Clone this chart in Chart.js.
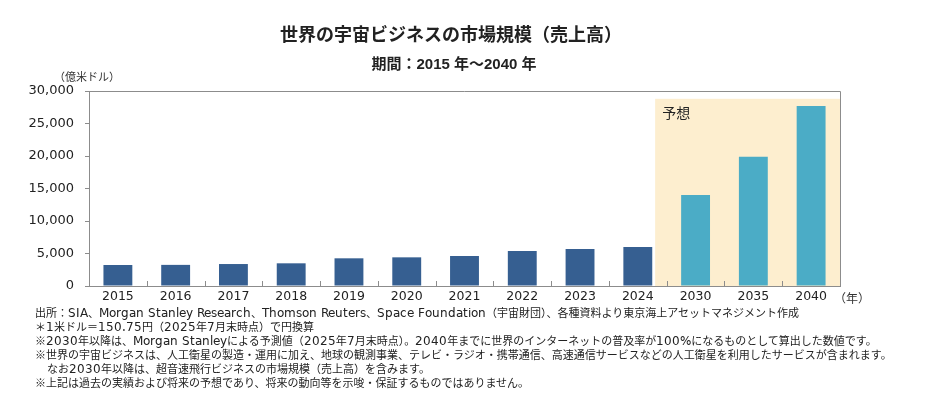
<!DOCTYPE html>
<html>
<head>
<meta charset="utf-8">
<script src="https://cdn.jsdelivr.net/npm/chart.js@4"></script>
<style>
  @font-face{font-family:"NoteLatin";src:local("DejaVu Sans");unicode-range:U+0020-007E;size-adjust:112%}
  body{margin:0;background:#fff;width:940px;height:407px;overflow:hidden;position:relative;
       font-family:"Noto Sans CJK JP","Noto Sans",sans-serif;color:#222}
  #wrap{position:absolute;left:0;top:0;width:940px;height:407px}
  .t{position:absolute;white-space:nowrap}
  #title{left:0;width:902px;text-align:center;top:20px;font-size:18px;font-weight:bold}
  #sub{left:0;width:908px;text-align:center;top:52px;font-size:15px;font-weight:bold;
       font-family:"Liberation Sans","Noto Sans CJK JP",sans-serif}
  #unit{left:54px;top:68px;font-size:11px;color:#333}
  #nen{left:834px;top:289px;font-size:12px;color:#333}
  #notes{left:35px;top:306px;font-size:11px;line-height:14px;color:#222;
         font-family:"NoteLatin","Noto Sans CJK JP",sans-serif}
</style>
</head>
<body>
<div id="wrap"><canvas id="mychart" width="940" height="407"></canvas></div>
<div class="t" id="title">世界の宇宙ビジネスの市場規模（売上高）</div>
<div class="t" id="sub">期間：2015 年～2040 年</div>
<div class="t" id="unit">（億米ドル）</div>
<div class="t" id="nen">（年）</div>
<div class="t" id="notes">
出所：SIA、Morgan Stanley Research、Thomson Reuters、Space Foundation（宇宙財団）、各種資料より東京海上アセットマネジメント作成<br>
＊1米ドル＝150.75円（2025年7月末時点）で円換算<br>
※2030年以降は、Morgan Stanleyによる予測値（2025年7月末時点）。2040年までに世界のインターネットの普及率が100%になるものとして算出した数値です。<br>
※世界の宇宙ビジネスは、人工衛星の製造・運用に加え、地球の観測事業、テレビ・ラジオ・携帯通信、高速通信サービスなどの人工衛星を利用したサービスが含まれます。<br>
&nbsp;&nbsp;&nbsp;なお2030年以降は、超音速飛行ビジネスの市場規模（売上高）を含みます。<br>
※上記は過去の実績および将来の予想であり、将来の動向等を示唆・保証するものではありません。
</div>
<script>
// data (億米ドル)
var years=['2015','2016','2017','2018','2019','2020','2021','2022','2023','2024','2030','2035','2040']
var actual=[3230,3250,3380,3490,4260,4410,4620,5380,5700,6000]
var forecast=[14000,19900,27700]
var yTicks=[0,5000,10000,15000,20000,25000,30000]

var darkBlue="#365f91"
var lightBlue="#4bacc6"
var bandColor="#fdeecf"
var axisColor="#8c8c8c"

var values=actual.concat(forecast)
var colors=[]
for(var i=0;i<values.length;i++){
  colors.push(i<actual.length?darkBlue:lightBlue)
}

// forecast band, box and inside ticks
var decor={
  id:'decor',
  beforeDatasetsDraw:function(chart){
    var ctx=chart.ctx, a=chart.chartArea, x=chart.scales.x, y=chart.scales.y
    var cw=(a.right-a.left)/years.length
    var left=x.getPixelForValue(actual.length-1)+cw*0.3
    var top=y.getPixelForValue(28800)
    ctx.save()
    ctx.fillStyle=bandColor
    ctx.fillRect(left,top,a.right-left,a.bottom-top)
    ctx.fillStyle="#222"
    ctx.font="14px 'Noto Sans CJK JP'"
    ctx.textBaseline="middle"
    ctx.fillText("予想",left+7,top+14)
    ctx.restore()
  },
  afterDatasetsDraw:function(chart){
    var ctx=chart.ctx, a=chart.chartArea
    var cw=(a.right-a.left)/years.length
    ctx.save()
    ctx.strokeStyle=axisColor
    ctx.lineWidth=1
    ctx.beginPath()
    ctx.moveTo(a.left,a.top+0.5); ctx.lineTo(a.right+0.5,a.top+0.5); ctx.lineTo(a.right+0.5,a.bottom)
    for(var i=1;i<years.length;i++){
      var px=Math.round(a.left+i*cw)+0.5
      ctx.moveTo(px,a.bottom); ctx.lineTo(px,a.bottom-5)
    }
    ctx.stroke()
    ctx.restore()
  }
}

var mychart=document.getElementById("mychart").getContext('2d')
var chart=new Chart(mychart,{
  type:'bar',
  data:{
    labels:years,
    datasets:[{
      label:"市場規模",
      data:values,
      backgroundColor:colors,
      categoryPercentage:1,
      barPercentage:0.5
    }]
  },
  options:{
    responsive:false,
    animation:false,
    layout:{padding:{left:0,top:91,right:100,bottom:91}},
    plugins:{legend:{display:false},tooltip:{enabled:false}},
    scales:{
      x:{
        grid:{display:false,drawTicks:false,tickLength:0},
        border:{display:true,color:axisColor},
        ticks:{color:"#222",padding:3,font:{family:"'DejaVu Sans'",size:12.5}},
        afterFit:function(s){s.height=30}
      },
      y:{
        min:0,max:30000,
        afterBuildTicks:function(s){s.ticks=yTicks.map(function(v){return {value:v}})},
        grid:{drawOnChartArea:false,tickLength:4,color:axisColor},
        border:{display:true,color:axisColor},
        ticks:{color:"#222",padding:11,font:{family:"'DejaVu Sans'",size:13},
          callback:function(v){return v.toLocaleString('en-US')}},
        afterFit:function(s){s.width=89}
      }
    }
  },
  plugins:[decor]
})
</script>
</body>
</html>
